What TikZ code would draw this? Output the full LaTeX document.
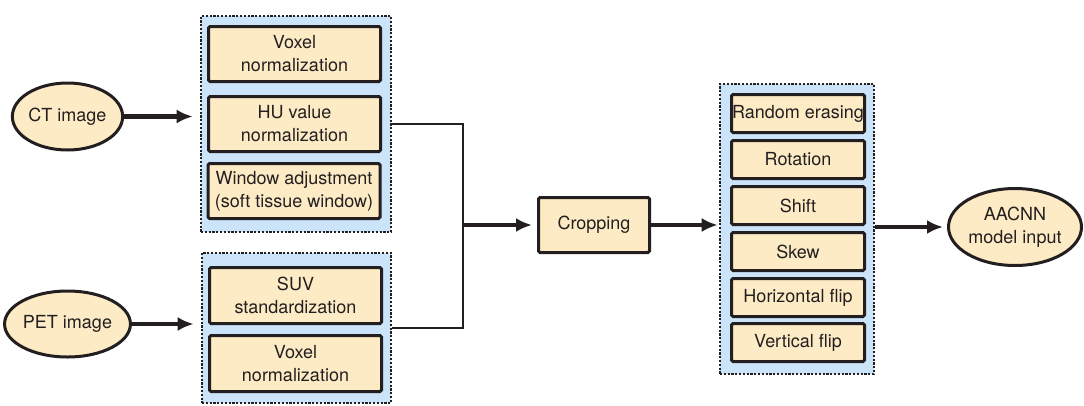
\documentclass[tikz,border=0pt]{standalone}
\usepackage{fontspec}
\setmainfont{TeX Gyre Heros}
\usetikzlibrary{arrows.meta,shapes.geometric}
\definecolor{boxfill}{HTML}{FDEBC5}
\definecolor{grpfill}{HTML}{CCE4FA}
\definecolor{ink}{HTML}{231F20}
\tikzset{
 txt/.style={font=\fontsize{18}{23}\selectfont, text=ink, align=center},
 stepbox/.style={txt, draw=ink, fill=boxfill, line width=3pt, rounded corners=1.5pt, inner sep=0pt},
 grp/.style={draw=ink, fill=grpfill, line width=2.6pt, dash pattern=on 2.2pt off 1.6pt, inner sep=0pt},
 oval/.style={txt, ellipse, draw=ink, fill=boxfill, line width=3pt, inner sep=0pt},
 bigarrow/.style={draw=ink, line width=4.5pt, -{Latex[length=16pt,width=14pt]}},
 thinline/.style={draw=ink, line width=2pt},
}
\begin{document}
\begin{tikzpicture}[x=1pt,y=-1pt]
\useasboundingbox (0,0) rectangle (1084,405);
% inputs
\node[oval, minimum width=109pt, minimum height=67pt] (ct) at (67.5,116.5) {CT image};
\node[oval, minimum width=109pt, minimum height=66pt] (pet) at (67.5,324) {PET image};
% CT group
\node[grp, minimum width=190pt, minimum height=216pt] (g1) at (296,124) {};
\node[stepbox, minimum width=172pt, minimum height=55pt] (v1) at (294.5,54) {Voxel\\normalization};
\node[stepbox, minimum width=172pt, minimum height=55pt] (hu) at (294.5,124) {HU value\\normalization};
\node[stepbox, minimum width=172pt, minimum height=55pt] (win) at (294,191) {Window adjustment\\(soft tissue window)};
% PET group
\node[grp, minimum width=189pt, minimum height=150pt] (g2) at (296.5,328) {};
\node[stepbox, minimum width=172pt, minimum height=56pt] (suv) at (295.5,295.5) {SUV\\standardization};
\node[stepbox, minimum width=172pt, minimum height=56pt] (v2) at (295.5,363.5) {Voxel\\normalization};
% cropping
\coordinate (j) at (463,225);
\node[stepbox, minimum width=111pt, minimum height=55pt] (crop) at (594,225) {Cropping};
% augmentation group
\node[grp, minimum width=154pt, minimum height=290pt] (g3) at (797,229) {};
\node[stepbox, minimum width=133pt, minimum height=38pt] (a1) at (798,113.5) {Random erasing};
\node[stepbox, minimum width=133pt, minimum height=38pt] (a2) at (798,159.5) {Rotation};
\node[stepbox, minimum width=133pt, minimum height=38pt] (a3) at (798,205.5) {Shift};
\node[stepbox, minimum width=133pt, minimum height=38pt] (a4) at (798,251.5) {Skew};
\node[stepbox, minimum width=133pt, minimum height=38pt] (a5) at (798,297.5) {Horizontal flip};
\node[stepbox, minimum width=133pt, minimum height=38pt] (a6) at (798,342.5) {Vertical flip};
% output
\node[oval, minimum width=133pt, minimum height=77pt] (out) at (1015,227) {AACNN\\model input};
% connectors
\draw[bigarrow, shorten >=7pt] (ct.east) -- (ct.east -| g1.west);
\draw[bigarrow, shorten >=7pt] (pet.east) -- (pet.east -| g2.west);
\draw[thinline] (g1.east) -| (j) |- (g2.east);
\draw[bigarrow, shorten >=5pt] (j) -- (crop.west);
\draw[bigarrow, shorten >=1pt] (crop.east) -- (crop.east -| g3.west);
\draw[bigarrow, shorten >=4pt] (g3.east |- out.west) -- (out.west);
\end{tikzpicture}
\end{document}
